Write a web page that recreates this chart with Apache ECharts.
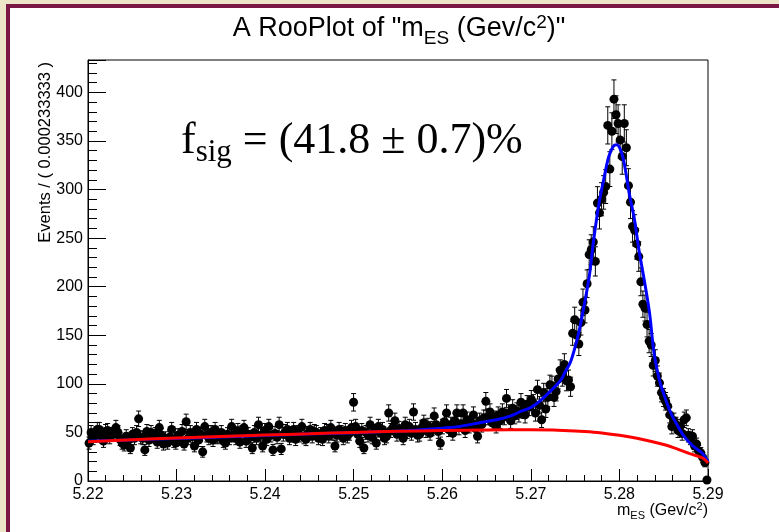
<!DOCTYPE html>
<html>
<head>
<meta charset="utf-8">
<script src="https://cdn.jsdelivr.net/npm/echarts@6/dist/echarts.min.js"></script>
<style>
  html, body { margin: 0; padding: 0; width: 779px; height: 532px; overflow: hidden; background: #ede5c8; }
  #pad { position: absolute; left: 6px; top: 4px; width: 773px; height: 528px; background: #fff;
         border-left: 4px solid #7a1746; border-top: 4px solid #7a1746; box-sizing: border-box; }
  #chart { position: absolute; left: 0; top: 0; width: 779px; height: 532px; }
</style>
</head>
<body>
<div id="pad"></div>
<div id="chart"></div>
<script>
// Histogram binning: 300 bins of width 0.000233333 starting at 5.22
const binLow = 5.22;
const binWidth = 0.000233333;

// Event counts per bin
const counts = [
  39, 50, 44, 47, 53, 53, 46, 41, 51, 52,
  45, 48, 48, 55, 50, 43, 39, 37, 46, 42,
  34, 48, 44, 50, 64, 45, 44, 32, 51, 42,
  50, 46, 48, 40, 55, 47, 38, 44, 39, 45,
  53, 41, 39, 47, 43, 51, 38, 61, 44, 50,
  46, 36, 53, 42, 48, 30, 56, 47, 44, 50,
  42, 53, 45, 46, 50, 41, 39, 48, 44, 56,
  47, 44, 52, 40, 50, 55, 41, 48, 45, 34,
  50, 44, 58, 47, 36, 52, 43, 56, 47, 32,
  49, 45, 58, 33, 48, 51, 53, 44, 47, 53,
  43, 50, 47, 56, 45, 43, 49, 53, 46, 51,
  50, 44, 48, 43, 52, 51, 46, 55, 49, 36,
  47, 53, 50, 44, 52, 46, 49, 55, 81, 56,
  48, 41, 52, 34, 50, 47, 58, 45, 51, 39,
  56, 49, 53, 44, 46, 70, 52, 55, 62, 48,
  54, 50, 44, 58, 51, 56, 49, 71, 53, 47,
  48, 55, 60, 52, 57, 49, 54, 67, 58, 51,
  39, 56, 61, 70, 53, 58, 49, 62, 70, 55,
  59, 70, 52, 63, 57, 60, 68, 54, 46, 62,
  58, 65, 82, 66, 71, 60, 64, 57, 68, 62,
  71, 66, 85, 70, 62, 75, 67, 72, 69, 81,
  73, 68, 79, 76, 84, 80, 70, 94, 78, 63,
  91, 74, 86, 99, 98, 86, 92, 105, 114, 108,
  120, 103, 104, 97, 152, 166, 150, 141, 163, 184,
  176, 203, 233, 238, 246, 226, 286, 276, 290, 297,
  303, 366, 321, 360, 393, 377, 368, 351, 334, 368,
  343, 304, 287, 262, 258, 244, 231, 205, 182, 178,
  161, 144, 140, 119, 124, 108, 101, 91, 86, 82,
  77, 68, 56, 62, 58, 52, 56, 49, 63, 65,
  47, 44, 46, 36, 38, 31, 29, 24, 19, 1
];

// Total fit model (signal + background), sampled along mES
const fitX = [5.2200, 5.2327, 5.2440, 5.2553, 5.2609, 5.2643, 5.2666, 5.2681, 5.2689, 5.2700,
              5.2711, 5.2726, 5.2734, 5.2738, 5.2745, 5.2754, 5.2760, 5.2766, 5.2771, 5.2777,
              5.2783, 5.2788, 5.2793, 5.2797, 5.2802, 5.2806, 5.2811, 5.2817, 5.2822, 5.2828,
              5.2834, 5.2839, 5.2845, 5.2851, 5.2858, 5.2866, 5.2873, 5.2883, 5.2893, 5.2900];
const fitY = [41, 44.5, 48, 51.5, 55, 60, 64, 68.4, 71.8, 75.6,
              83, 96, 104, 111, 123, 152.5, 180, 211, 248.5, 286,
              313.6, 334, 344.5, 346, 339, 324, 296.5, 269, 238, 207,
              173, 132, 104.4, 87, 70, 56.4, 46, 36, 29, 20];

// Background component (ARGUS shape)
const bkgX = [5.220, 5.225, 5.230, 5.235, 5.240, 5.245, 5.250, 5.255, 5.260, 5.265,
              5.270, 5.2725, 5.275, 5.2775, 5.280, 5.2825, 5.285, 5.2865, 5.2877, 5.2885,
              5.2893, 5.2897, 5.2900];
const bkgY = [40.5, 42.5, 44.2, 45.8, 47.3, 48.6, 50, 51.1, 52, 52.6,
              52.8, 52.5, 51.5, 50, 47, 43, 37.5, 33, 29, 26.5,
              24, 21.5, 18.5];

// Axis settings
const xMin = 5.22, xMax = 5.29, xStep = 0.01;
const yMin = 0, yMax = 433.3, yStep = 50, yMinorStep = 10;

const sansFont = '"Liberation Sans", Arial, Helvetica, sans-serif';
const serifFont = '"Liberation Serif", "Times New Roman", serif';

const points = counts.map((n, i) => [binLow + (i + 0.5) * binWidth, n]);
const errBars = counts.map((n, i) => {
  const e = Math.sqrt(n);
  return [binLow + (i + 0.5) * binWidth, Math.max(0, n - e), n + e];
});
const fitLine = fitX.map((x, i) => [x, fitY[i]]);
const bkgLine = bkgX.map((x, i) => [x, bkgY[i]]);

const chart = echarts.init(document.getElementById('chart'), null, { renderer: 'canvas' });

const tickStyle = { color: '#000', width: 1 };

chart.setOption({
  animation: false,
  backgroundColor: 'transparent',
  grid: {
    left: 88, right: 71, top: 60, bottom: 51,
    show: true, borderColor: '#000', borderWidth: 1, backgroundColor: 'transparent',
    containLabel: false, outerBoundsMode: 'none'
  },
  xAxis: {
    type: 'value', min: xMin, max: xMax, interval: xStep,
    axisLine: { show: true, onZero: false, lineStyle: { color: '#000', width: 1 } },
    axisTick: { show: true, inside: true, length: 12, lineStyle: tickStyle },
    minorTick: { show: true, splitNumber: 5, length: 6, lineStyle: tickStyle },
    splitLine: { show: false },
    minorSplitLine: { show: false },
    axisLabel: {
      color: '#000', fontSize: 16, fontFamily: sansFont, margin: 6,
      formatter: v => v.toFixed(2)
    }
  },
  yAxis: [
    {
      type: 'value', min: yMin, max: yMax, interval: yStep,
      axisLine: { show: true, lineStyle: { color: '#000', width: 1 } },
      axisTick: { show: true, inside: true, length: 18, lineStyle: tickStyle },
      splitLine: { show: false },
      axisLabel: {
        color: '#000', fontSize: 16, fontFamily: sansFont, margin: 5,
        formatter: v => (Math.abs(v % yStep) < 1e-6 ? String(Math.round(v)) : '')
      }
    },
    {
      type: 'value', min: yMin, max: yMax, interval: yMinorStep, position: 'left', offset: 0,
      alignTicks: false,
      axisLine: { show: false },
      axisTick: { show: true, inside: true, length: 9, lineStyle: tickStyle },
      splitLine: { show: false },
      axisLabel: { show: false }
    }
  ],
  series: [
    {
      type: 'custom',
      name: 'errors',
      data: errBars,
      z: 2,
      silent: true,
      renderItem: (params, api) => {
        const x = api.value(0);
        const lo = api.coord([x, api.value(1)]);
        const hi = api.coord([x, api.value(2)]);
        const w = 2.5;
        const st = { stroke: '#000', lineWidth: 1 };
        return {
          type: 'group',
          children: [
            { type: 'line', shape: { x1: lo[0], y1: lo[1], x2: hi[0], y2: hi[1] }, style: st },
            { type: 'line', shape: { x1: lo[0] - w, y1: lo[1], x2: lo[0] + w, y2: lo[1] }, style: st },
            { type: 'line', shape: { x1: hi[0] - w, y1: hi[1], x2: hi[0] + w, y2: hi[1] }, style: st }
          ]
        };
      }
    },
    {
      type: 'scatter',
      name: 'data',
      data: points,
      symbol: 'circle',
      symbolSize: 9,
      itemStyle: { color: '#000', opacity: 1 },
      z: 3,
      silent: true
    },
    {
      type: 'line',
      name: 'model',
      data: fitLine,
      showSymbol: false,
      smooth: 0.35,
      lineStyle: { color: '#0000ff', width: 3 },
      z: 4,
      silent: true
    },
    {
      type: 'line',
      name: 'background',
      data: bkgLine,
      showSymbol: false,
      smooth: 0.35,
      lineStyle: { color: '#ff0000', width: 3 },
      z: 5,
      silent: true
    }
  ],
  graphic: [
    {
      type: 'text', x: 399, y: 9,
      style: {
        text: '{a|A RooPlot of "m}{b|ES}{a| (Gev/c}{c|2}{a|)"}',
        align: 'center', verticalAlign: 'top', fill: '#000',
        rich: {
          a: { fontSize: 27, fontFamily: sansFont, verticalAlign: 'top', padding: [6, 0, 0, 0] },
          b: { fontSize: 19, fontFamily: sansFont, verticalAlign: 'top', padding: [20, 0, 0, 0] },
          c: { fontSize: 19, fontFamily: sansFont, verticalAlign: 'top', padding: [4, 0, 0, 0] }
        }
      }
    },
    {
      type: 'text', x: 45, y: 62, rotation: Math.PI / 2,
      style: {
        text: 'Events / ( 0.000233333 )',
        font: '16.5px ' + sansFont, fill: '#000',
        align: 'right', verticalAlign: 'middle'
      }
    },
    {
      type: 'text', x: 708, y: 498,
      style: {
        text: '{a|m}{b|ES}{a| (Gev/c}{c|2}{a|)}',
        align: 'right', verticalAlign: 'top', fill: '#000',
        rich: {
          a: { fontSize: 16, fontFamily: sansFont, verticalAlign: 'top', padding: [5, 0, 0, 0] },
          b: { fontSize: 11, fontFamily: sansFont, verticalAlign: 'top', padding: [12, 0, 0, 0] },
          c: { fontSize: 11, fontFamily: sansFont, verticalAlign: 'top', padding: [3, 0, 0, 0] }
        }
      }
    },
    {
      type: 'text', x: 181, y: 110,
      style: {
        text: '{a|f}{b|sig}{a| = (41.8 ± 0.7)%}',
        align: 'left', verticalAlign: 'top', fill: '#000',
        rich: {
          a: { fontSize: 44, fontFamily: serifFont, verticalAlign: 'top', padding: [9, 0, 0, 0] },
          b: { fontSize: 31, fontFamily: serifFont, verticalAlign: 'top', padding: [27, 0, 0, 0] }
        }
      }
    }
  ]
});
</script>
</body>
</html>
